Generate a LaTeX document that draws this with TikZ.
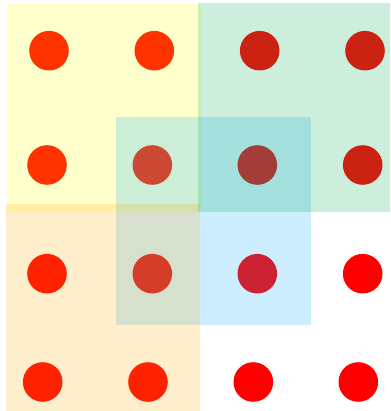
\documentclass[tikz,border=0pt]{standalone}
\definecolor{dotred}{RGB}{255,0,0}
\definecolor{gyellow}{RGB}{255,255,0}
\definecolor{ggreen}{RGB}{0,170,85}
\definecolor{gorange}{RGB}{255,170,0}
\definecolor{gblue}{RGB}{0,170,255}
\begin{document}
\begin{tikzpicture}[x=1pt,y=-1pt,
  dot/.style={circle,fill=dotred,inner sep=0pt,minimum size=39.6pt},
  groupbox/.style={fill opacity=0.2,draw=none}]
\useasboundingbox (0,0) rectangle (390,411);
% dots
\node[dot] (d11) at (49,50.7) {};
\node[dot] (d12) at (154.3,50.7) {};
\node[dot] (d13) at (259.7,50.7) {};
\node[dot] (d14) at (365,50.7) {};
\node[dot] (d21) at (47,165) {};
\node[dot] (d22) at (152.3,165) {};
\node[dot] (d23) at (257.3,165) {};
\node[dot] (d24) at (362.7,165) {};
\node[dot] (d31) at (47,273.7) {};
\node[dot] (d32) at (152.3,273.7) {};
\node[dot] (d33) at (257.3,273.7) {};
\node[dot] (d34) at (362.7,273.7) {};
\node[dot] (d41) at (42.7,382) {};
\node[dot] (d42) at (148,382) {};
\node[dot] (d43) at (253.3,382) {};
\node[dot] (d44) at (358.3,382) {};
% groups
\fill[groupbox,gyellow] (7,4) rectangle (201,211);
\fill[groupbox,gblue] (116,117) rectangle (311,325);
\fill[groupbox,ggreen] (198,3) rectangle (390,211.5);
\fill[groupbox,gorange] (6,204) rectangle (200,411);
\end{tikzpicture}
\end{document}
